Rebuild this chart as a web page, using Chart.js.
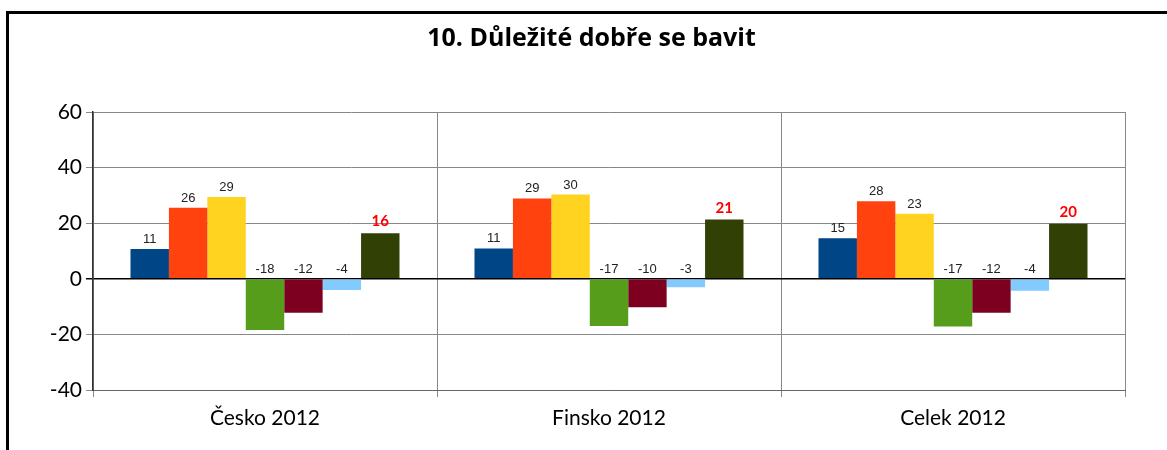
<!DOCTYPE html>
<html>
<head>
<meta charset="utf-8">
<script src="https://cdn.jsdelivr.net/npm/chart.js@4/dist/chart.umd.min.js"></script>
<style>
  html, body { margin: 0; padding: 0; background: #fff; overflow: hidden; }
  #frame {
    position: absolute; left: 6px; top: 11px; width: 1300px; height: 600px;
    border-left: 3px solid #000; border-top: 3px solid #000;
  }
  #wrap { position: absolute; left: 0; top: 0; width: 1167px; height: 450px; }
</style>
</head>
<body>
<div id="frame"></div>
<div id="wrap"><canvas id="chart"></canvas></div>
<script>
// categories and series
const categories = ["Česko 2012", "Finsko 2012", "Celek 2012"];
const series1 = [10.7, 10.9, 14.6];
const series2 = [25.6, 28.9, 27.9];
const series3 = [29.4, 30.3, 23.4];
const series4 = [-18.4, -17.0, -17.2];
const series5 = [-12.2, -10.2, -12.2];
const series6 = [-4.0, -3.0, -4.3];
const series7 = [16.4, 21.3, 19.8];
const yTicks = [-40, -20, 0, 20, 40, 60];

const COLORS = ["#004586", "#ff420e", "#ffd320", "#579d1c", "#7e0021", "#83caff", "#314004"];
const allSeries = [series1, series2, series3, series4, series5, series6, series7];

// draws the number over each bar (above the zero line for negatives)
const valueLabels = {
  id: "valueLabels",
  afterDatasetsDraw(chart) {
    const ctx = chart.ctx;
    const zero = chart.scales.y.getPixelForValue(0);
    const last = chart.data.datasets.length - 1;
    ctx.save();
    ctx.textAlign = "center";
    ctx.textBaseline = "alphabetic";
    chart.data.datasets.forEach((ds, i) => {
      const meta = chart.getDatasetMeta(i);
      meta.data.forEach((bar, j) => {
        const v = Math.round(ds.data[j]);
        const top = Math.min(bar.y, zero);
        if (i === last) {
          ctx.font = "bold 15px Lato, sans-serif";
          ctx.fillStyle = "#ff0000";
          ctx.fillText(String(v), bar.x, top - 7);
        } else {
          ctx.font = "13px 'Liberation Sans', Arial, sans-serif";
          ctx.fillStyle = "#222";
          ctx.fillText(String(v), bar.x, top - 6);
        }
      });
    });
    ctx.restore();
  },
};

new Chart(document.getElementById("chart"), {
  type: "bar",
  data: {
    labels: categories,
    datasets: allSeries.map((data, i) => ({
      label: "Řada " + (i + 1),
      data: data,
      backgroundColor: COLORS[i],
      borderWidth: 0,
      categoryPercentage: 0.782,
      barPercentage: 1,
    })),
  },
  options: {
    responsive: true,
    maintainAspectRatio: false,
    animation: false,
    layout: { padding: { left: 16, right: 0, top: 0, bottom: 0 } },
    plugins: {
      legend: { display: false },
      tooltip: { enabled: false },
      title: {
        display: true,
        text: "10. Důležité dobře se bavit",
        color: "#000",
        font: { family: "'Open Sans', sans-serif", size: 25, weight: "bold", lineHeight: 1.2 },
        padding: { top: 24, bottom: 58 },
      },
    },
    scales: {
      x: {
        grid: { offset: true, color: "#888", lineWidth: 1, tickLength: 7 },
        border: { color: "#666", width: 1 },
        ticks: { color: "#000", padding: 9, font: { family: "Lato, sans-serif", size: 21 } },
        afterFit: (scale) => { scale.height = 60; },
      },
      y: {
        min: -40,
        max: 60,
        afterBuildTicks: (scale) => { scale.ticks = yTicks.map((v) => ({ value: v })); },
        grid: {
          color: (c) => (c.tick && c.tick.value === 0 ? "#000" : "#888"),
          lineWidth: (c) => (c.tick && c.tick.value === 0 ? 1.5 : 1),
          tickLength: 7,
        },
        border: { color: "#333", width: 1.5 },
        ticks: { color: "#000", padding: 4, font: { family: "Lato, sans-serif", size: 21 } },
        afterFit: (scale) => { scale.width = 77; },
      },
      // empty axis that only reserves the right margin
      yRight: {
        position: "right",
        grid: { display: false },
        border: { display: false },
        ticks: { display: false },
        afterFit: (scale) => { scale.width = 42; },
      },
    },
  },
  plugins: [valueLabels],
});
</script>
</body>
</html>
